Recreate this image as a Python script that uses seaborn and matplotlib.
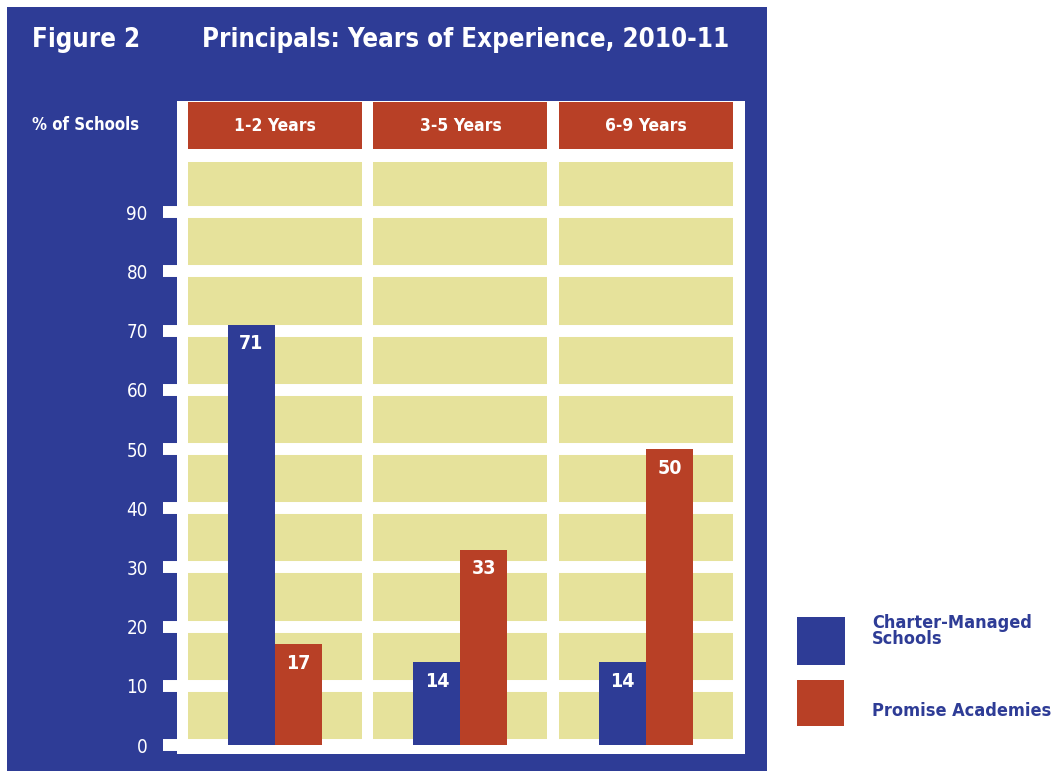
import pandas as pd
import seaborn as sns
import matplotlib.pyplot as plt
from matplotlib.patches import Rectangle

categories = ["1-2 Years", "3-5 Years", "6-9 Years"]
groups = ["Charter-Managed Schools", "Promise Academies"]
charter = [71, 14, 14]
promise = [17, 33, 50]
y_ticks = [0, 10, 20, 30, 40, 50, 60, 70, 80, 90]

blue = "#2e3c96"
red = "#b84026"
yellow = "#e6e29b"

df = pd.DataFrame({
    "Years": categories * 2,
    "School": [groups[0]] * 3 + [groups[1]] * 3,
    "Percent": charter + promise,
})

sns.set_theme(style="white")
plt.rcParams["font.family"] = ["DejaVu Sans"]
plt.rcParams["font.stretch"] = "condensed"

W, H = 1062, 771
fig = plt.figure(figsize=(W / 100, H / 100), dpi=100)

# blue panel behind the chart
fig.patches.append(Rectangle((7 / W, 0), 760 / W, 764 / H, transform=fig.transFigure,
                             facecolor=blue, edgecolor="none", zorder=-1))

ax = fig.add_axes([177 / W, 17 / H, 568 / W, 653 / H])
ax.set_facecolor("white")

# yellow columns and red header boxes
for i, cat in enumerate(categories):
    ax.add_patch(Rectangle((i - 0.469, 0), 0.938, 98.5, facecolor=yellow,
                           edgecolor="none", zorder=0.5))
    ax.add_patch(Rectangle((i - 0.469, 100.7), 0.938, 7.9, facecolor=red,
                           edgecolor="none", zorder=0.5))
    ax.text(i, 104.65, cat, ha="center", va="center", color="white",
            fontsize=12.5, fontweight="bold", zorder=3)

for t in y_ticks:
    ax.axhline(t, color="white", lw=8.6, zorder=1)

sns.barplot(data=df, x="Years", y="Percent", hue="School", palette=[blue, red],
            width=0.507, saturation=1, errorbar=None, legend=False, ax=ax,
            linewidth=0, zorder=2)

for cont in ax.containers:
    for bar in cont:
        h = bar.get_height()
        ax.text(bar.get_x() + bar.get_width() / 2, h - 1.6, f"{h:.0f}",
                ha="center", va="top", color="white", fontsize=14,
                fontweight="bold", zorder=3)

ax.set_xlim(-0.528, 2.534)
ax.set_ylim(-1.52, 108.8)
ax.set_xticks([])
ax.set_yticks(y_ticks)
ax.tick_params(axis="y", left=True, length=10, width=8.6, color="white",
               labelcolor="white", labelsize=13.5, pad=11, direction="out")
ax.set_xlabel("")
ax.set_ylabel("")
for s in ax.spines.values():
    s.set_visible(False)

fig.text(32 / W, 1 - 40 / H, "Figure 2", color="white", fontsize=18.5,
         fontweight="bold", va="center")
fig.text(202 / W, 1 - 40 / H, "Principals: Years of Experience, 2010-11",
         color="white", fontsize=18.5, fontweight="bold", va="center")
fig.text(32 / W, 1 - 125 / H, "% of Schools", color="white", fontsize=12,
         fontweight="bold", va="center")

# legend
fig.patches.append(Rectangle((797 / W, 1 - 665 / H), 48 / W, 48 / H,
                             transform=fig.transFigure, facecolor=blue, edgecolor="none"))
fig.patches.append(Rectangle((797 / W, 1 - 726 / H), 47 / W, 46 / H,
                             transform=fig.transFigure, facecolor=red, edgecolor="none"))
fig.text(872 / W, 1 - 614 / H, "Charter-Managed\nSchools", color=blue, fontsize=13,
         fontweight="bold", va="top", linespacing=0.85)
fig.text(872 / W, 1 - 711 / H, "Promise Academies", color=blue, fontsize=13,
         fontweight="bold", va="center")

fig.savefig("out.png", dpi=100)
